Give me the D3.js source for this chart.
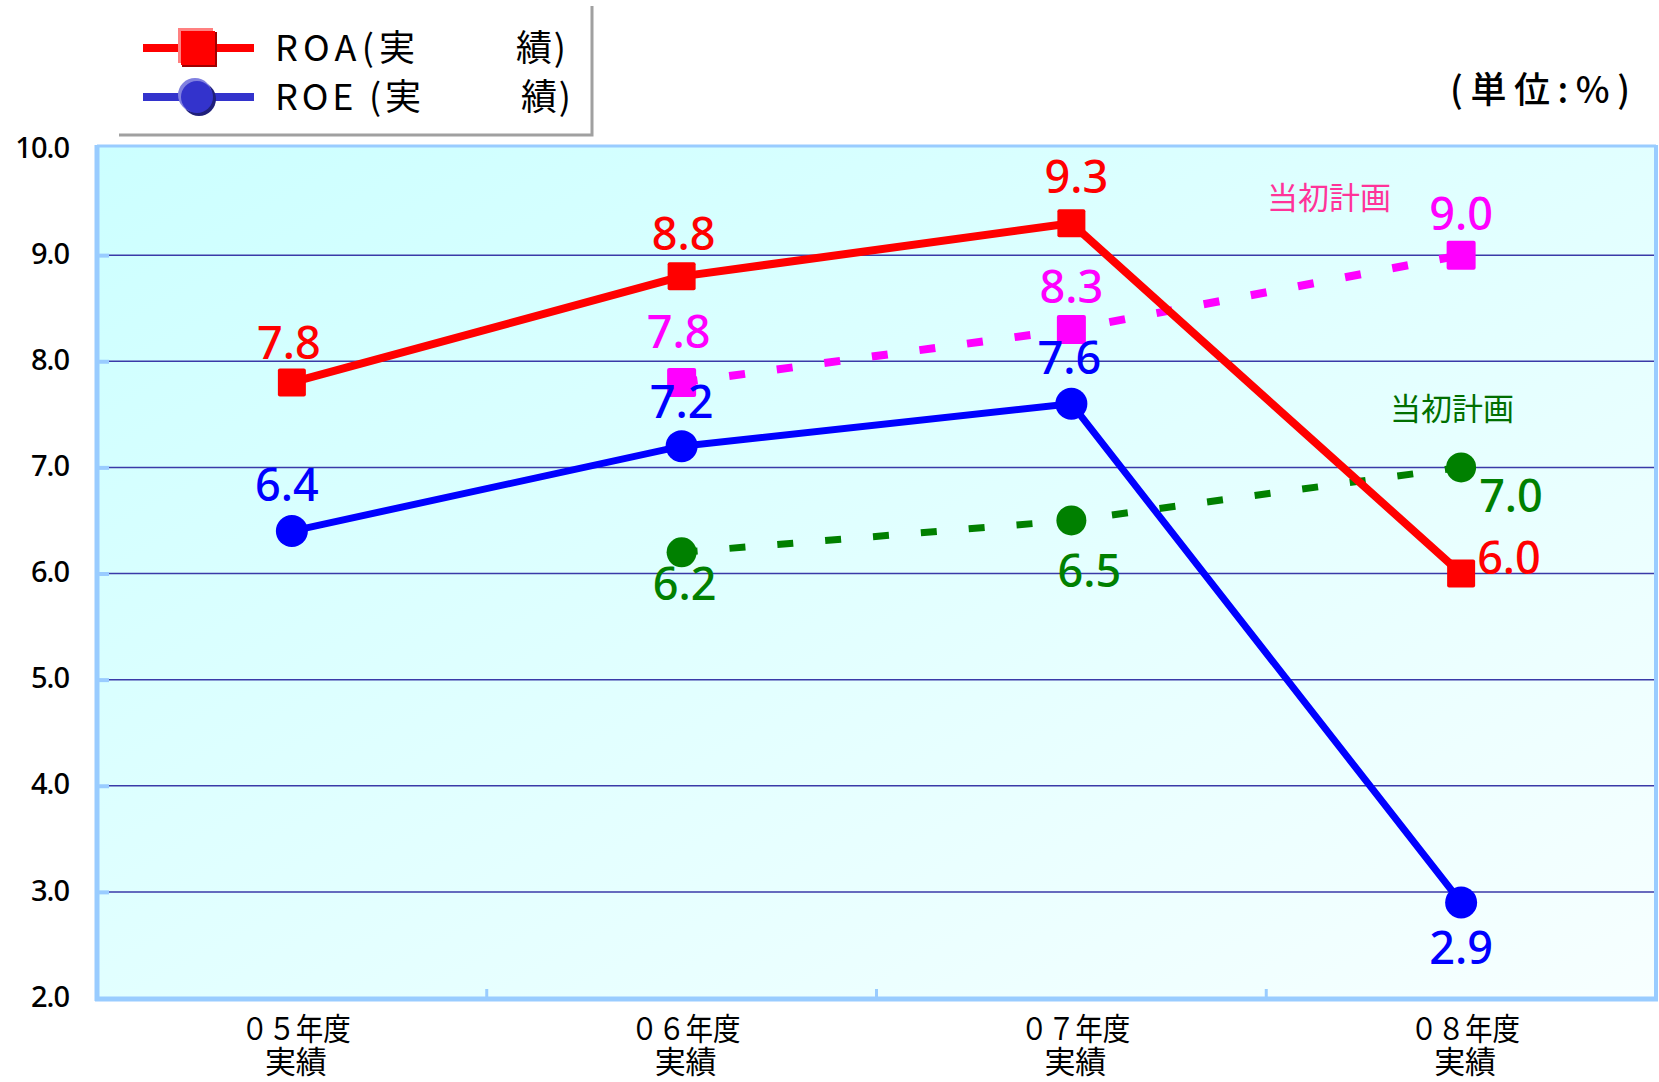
<!DOCTYPE html>
<html>
<head>
<meta charset="utf-8">
<script src="https://cdn.jsdelivr.net/npm/d3@7"></script>
<style>
  html, body { margin: 0; padding: 0; background: #ffffff; }
  svg { display: block; }
  text { font-family: "Noto Sans", "Noto Sans CJK JP", sans-serif; }
  .cjk { font-family: "Noto Sans CJK JP", "Noto Sans", sans-serif; }
</style>
</head>
<body>
<svg id="chart" width="1659" height="1082"></svg>
<script>
// ---- data ----
const categories = ["０５年度", "０６年度", "０７年度", "０８年度"];
const categorySub = ["実績", "実績", "実績", "実績"];
const roaActual = [7.8, 8.8, 9.3, 6.0];
const roeActual = [6.4, 7.2, 7.6, 2.9];
const roaPlan = [null, 7.8, 8.3, 9.0];
const roePlan = [null, 6.2, 6.5, 7.0];
const yTicks = [2, 3, 4, 5, 6, 7, 8, 9, 10];
const legendLabels = [["ROA(実", "績)"], ["ROE (実", "績)"]];
const planLabel = "当初計画";
const unitLabel = "(単位:%)";

// ---- layout ----
const plot = { left: 97, right: 1656, top: 149, bottom: 998 };

const svg = d3.select("#chart");

const x = d3.scaleBand().domain(categories).range([plot.left, plot.right]);
const y = d3.scaleLinear().domain([2, 10]).range([plot.bottom, plot.top]);
const cx = c => x(c) + x.bandwidth() / 2;

// background gradient
const defs = svg.append("defs");
const grad = defs.append("linearGradient").attr("id", "bg")
  .attr("x1", "0%").attr("y1", "0%").attr("x2", "100%").attr("y2", "100%");
grad.append("stop").attr("offset", "0%").attr("stop-color", "#ccffff");
grad.append("stop").attr("offset", "100%").attr("stop-color", "#f7ffff");

svg.append("rect")
  .attr("x", plot.left).attr("y", plot.top - 3)
  .attr("width", plot.right - plot.left).attr("height", plot.bottom - plot.top + 3)
  .attr("fill", "url(#bg)");

// horizontal gridlines
svg.append("g").selectAll("line")
  .data(yTicks.filter(t => t > 2 && t < 10))
  .join("line")
  .attr("x1", plot.left + 10).attr("x2", plot.right)
  .attr("y1", d => y(d)).attr("y2", d => y(d))
  .attr("stroke", "#3a3aa8").attr("stroke-width", 1.5);

// frame
const frame = svg.append("g").attr("stroke", "#99ccff").attr("fill", "none");
frame.append("line").attr("x1", plot.left).attr("x2", plot.right)
  .attr("y1", plot.top - 3).attr("y2", plot.top - 3).attr("stroke-width", 3);
frame.append("line").attr("x1", plot.right).attr("x2", plot.right)
  .attr("y1", plot.top - 4).attr("y2", plot.bottom).attr("stroke-width", 4);
frame.append("line").attr("x1", plot.left).attr("x2", plot.left)
  .attr("y1", plot.top - 4).attr("y2", plot.bottom + 3).attr("stroke-width", 5);
frame.append("line").attr("x1", plot.left - 2).attr("x2", plot.right + 2)
  .attr("y1", plot.bottom + 1).attr("y2", plot.bottom + 1).attr("stroke-width", 5);

// left axis ticks & labels
const yAxis = d3.axisLeft(y).tickValues(yTicks).tickFormat(d3.format(".1f"))
  .tickSize(-12).tickPadding(28);
const ya = svg.append("g").attr("transform", `translate(${plot.left},0)`).call(yAxis);
ya.select(".domain").remove();
ya.selectAll(".tick line").attr("stroke", "#99ccff").attr("stroke-width", 4)
  .filter(d => d === 2 || d === 10).remove();
ya.selectAll(".tick text")
  .attr("font-size", 29).attr("font-weight", 500).attr("fill", "#000")
  .attr("letter-spacing", -1).attr("dy", "0.28em");

// bottom axis: band boundaries as short ticks
svg.append("g").selectAll("line")
  .data(categories.slice(1))
  .join("line")
  .attr("x1", d => x(d)).attr("x2", d => x(d))
  .attr("y1", plot.bottom - 9).attr("y2", plot.bottom)
  .attr("stroke", "#99ccff").attr("stroke-width", 3);

// two-line category labels
const xl = svg.append("g").selectAll("text").data(categories).join("text")
  .attr("class", "cjk")
  .attr("text-anchor", "middle")
  .attr("font-size", 31).attr("fill", "#000");
xl.append("tspan")
  .attr("x", d => cx(d) + 4).attr("y", 1040)
  .attr("textLength", 110).attr("lengthAdjust", "spacingAndGlyphs")
  .text(d => d);
xl.append("tspan")
  .attr("x", d => cx(d) + 4).attr("y", 1073)
  .text((d, i) => categorySub[i]);

// ---- series ----
function pts(values) {
  return values.map((v, i) => ({ c: categories[i], v })).filter(d => d.v != null);
}
const line = d3.line().x(d => cx(d.c)).y(d => y(d.v));

const series = [
  { values: roaPlan, color: "#ff00ff", width: 8, dash: "16,32", marker: "square", size: 29, label: "#ff00ff",
    place: [null, [-3, -34, "middle"], [0, -26, "middle"], [0, -25, "middle"]] },
  { values: roePlan, color: "#008000", width: 7, dash: "16,32", marker: "circle", size: 15, label: "#008000",
    place: [null, [3, 48, "middle"], [18, 67, "middle"], [18, 45, "start"]] },
  { values: roaActual, color: "#ff0000", width: 8, dash: null, marker: "square", size: 28, label: "#ff0000",
    place: [[-3, -23, "middle"], [2, -26, "middle"], [5, -30, "middle"], [16, 0, "start"]] },
  { values: roeActual, color: "#0000ff", width: 7, dash: null, marker: "circle", size: 16, label: "#0000ff",
    place: [[-5, -30, "middle"], [0, -28, "middle"], [-2, -30, "middle"], [0, 62, "middle"]] }
];

const lineLayer = svg.append("g");
const markLayer = svg.append("g");
const labelLayer = svg.append("g");

series.forEach(s => {
  const data = pts(s.values);
  lineLayer.append("path")
    .attr("d", line(data))
    .attr("fill", "none")
    .attr("stroke", s.color)
    .attr("stroke-width", s.width)
    .attr("stroke-dasharray", s.dash)
    .attr("stroke-linejoin", "round");
});

series.forEach(s => {
  const data = pts(s.values);
  if (s.marker === "square") {
    markLayer.selectAll(null).data(data).join("rect")
      .attr("x", d => cx(d.c) - s.size / 2).attr("y", d => y(d.v) - s.size / 2)
      .attr("width", s.size).attr("height", s.size)
      .attr("rx", 2)
      .attr("fill", s.color);
  } else {
    markLayer.selectAll(null).data(data).join("circle")
      .attr("cx", d => cx(d.c)).attr("cy", d => y(d.v)).attr("r", s.size)
      .attr("fill", s.color);
  }
  labelLayer.selectAll(null).data(data).join("text")
    .attr("x", d => cx(d.c) + s.place[categories.indexOf(d.c)][0])
    .attr("y", d => y(d.v) + s.place[categories.indexOf(d.c)][1])
    .attr("text-anchor", d => s.place[categories.indexOf(d.c)][2])
    .attr("font-size", 45).attr("font-weight", 500)
    .attr("fill", s.label)
    .text(d => d3.format(".1f")(d.v));
});

// plan captions
svg.append("text").attr("class", "cjk")
  .attr("x", 1267).attr("y", 209)
  .attr("font-size", 31).attr("fill", "#ff3399")
  .text(planLabel);
svg.append("text").attr("class", "cjk")
  .attr("x", 1390).attr("y", 420)
  .attr("font-size", 31).attr("fill", "#006f00")
  .text(planLabel);

// unit
svg.append("text").attr("class", "cjk")
  .attr("x", 1450).attr("y", 103)
  .attr("font-size", 36).attr("font-weight", 500).attr("fill", "#000")
  .attr("textLength", 180).attr("lengthAdjust", "spacing")
  .text(unitLabel);

// ---- legend ----
const lg = svg.append("g");
lg.append("polyline")
  .attr("points", "119,135 592,135 592,6")
  .attr("fill", "none").attr("stroke", "#a0a0a0").attr("stroke-width", 3);

const legendRows = [
  { y: 48, color: "#ff0000", dark: "#a00000", light: "#ff8080", marker: "square" },
  { y: 97, color: "#3333cc", dark: "#20207a", light: "#8080e0", marker: "circle" }
];
legendRows.forEach((r, i) => {
  lg.append("line").attr("x1", 143).attr("x2", 254).attr("y1", r.y).attr("y2", r.y)
    .attr("stroke", r.color).attr("stroke-width", 8);
  if (r.marker === "square") {
    lg.append("rect").attr("x", 182).attr("y", r.y - 16).attr("width", 35).attr("height", 35)
      .attr("fill", r.dark);
    lg.append("rect").attr("x", 178).attr("y", r.y - 20).attr("width", 35).attr("height", 35)
      .attr("fill", r.light);
    lg.append("rect").attr("x", 181).attr("y", r.y - 17).attr("width", 34).attr("height", 34)
      .attr("fill", r.color);
  } else {
    lg.append("circle").attr("cx", 199).attr("cy", r.y + 2).attr("r", 17).attr("fill", r.dark);
    lg.append("circle").attr("cx", 195).attr("cy", r.y - 2).attr("r", 17).attr("fill", r.light);
    lg.append("circle").attr("cx", 197).attr("cy", r.y).attr("r", 16).attr("fill", r.color);
  }
  const widths = [[140, 50], [146, 50]];
  const starts = [[275, 516], [275, 521]];
  lg.append("text").attr("class", "cjk")
    .attr("x", starts[i][0]).attr("y", r.y + 13)
    .attr("font-size", 36).attr("fill", "#000")
    .attr("textLength", widths[i][0]).attr("lengthAdjust", "spacing")
    .text(legendLabels[i][0]);
  lg.append("text").attr("class", "cjk")
    .attr("x", starts[i][1]).attr("y", r.y + 13)
    .attr("font-size", 36).attr("fill", "#000")
    .attr("textLength", widths[i][1]).attr("lengthAdjust", "spacing")
    .text(legendLabels[i][1]);
});
</script>
</body>
</html>
